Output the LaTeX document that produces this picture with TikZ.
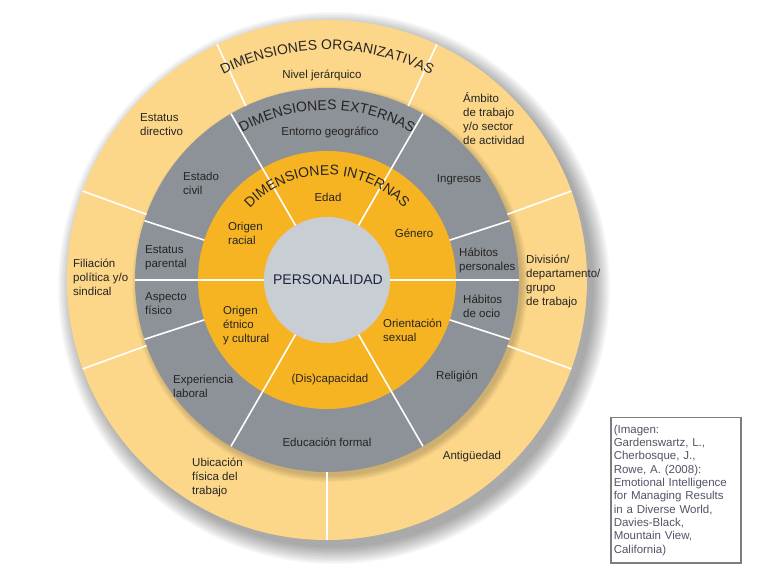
\documentclass[tikz,border=0pt]{standalone}
\usepackage{fontspec}
\setmainfont{Liberation Sans}
\usetikzlibrary{decorations.text}
\definecolor{outerc}{RGB}{252,215,138}
\definecolor{grayc}{RGB}{141,145,152}
\definecolor{orangec}{RGB}{246,180,35}
\definecolor{centerc}{RGB}{201,206,213}
\definecolor{txt}{RGB}{38,36,34}
\definecolor{navy}{RGB}{30,36,62}
\definecolor{citec}{RGB}{82,84,104}
\definecolor{boxc}{RGB}{125,125,125}
\begin{document}
\begin{tikzpicture}[x=1pt,y=1pt,
  sep/.style={white, line width=1.6pt},
  lbl/.style={font=\fontsize{11.5}{14}\selectfont, text=txt, inner sep=0pt, align=left},
  lblc/.style={lbl, align=center},
  arctitle/.style={decorate, decoration={text along path, text align=center, text color=txt,
     text={|\fontsize{14}{14}\selectfont|#1}}}
]
\useasboundingbox[fill=white] (-327,-295) rectangle (455,280);
% soft shadow
\foreach \i in {0,...,11} \fill[black,opacity=0.03] (7,-8) circle ({276-1.5*\i});
% rings
\fill[outerc] (0,0) circle (260);
\foreach \i in {0,...,5} \fill[black,opacity=0.03] (3,-4) circle ({198-1.2*\i});
\fill[grayc] (0,0) circle (192);
\fill[orangec] (0,0) circle (129);
\fill[centerc] (0,0) circle (63);
% separators
\foreach \a in {0,60,...,300} \draw[sep] (\a:63) -- (\a:192);
\foreach \a in {18,162,198,342} \draw[sep] (\a:129) -- (\a:192);
\foreach \a in {20,65,115,160,200,270,340} \draw[sep] (\a:192) -- (\a:260);
% arc titles
\path[arctitle={DIMENSIONES ORGANIZATIVAS}] (150:230) arc (150:30:230);
\path[arctitle={DIMENSIONES EXTERNAS}] (150:170) arc (150:30:170);
\path[arctitle={DIMENSIONES INTERNAS}] (160:105) arc (160:20:105);
% centre
\node[font=\fontsize{14}{14}\selectfont, text=navy, inner sep=0pt] (pers) at (1,0) {PERSONALIDAD};
% internal dimensions
\node[lblc] (edad) at (1,83) {Edad};
\node[lbl, anchor=west] (racial) at (-99,46.5) {Origen\\racial};
\node[lbl, anchor=west] (etnico) at (-104,-45.5) {Origen\\étnico\\y cultural};
\node[lblc] (discap) at (3,-100) {(Dis)capacidad};
\node[lbl, anchor=west] (orient) at (56,-50.5) {Orientación\\sexual};
\node[lblc] (genero) at (87,47) {Género};
% external dimensions
\node[lblc] (entorno) at (3,148) {Entorno geográfico};
\node[lbl, anchor=west] (civil) at (-144,96.5) {Estado\\civil};
\node[lbl, anchor=west] (parental) at (-182,22) {Estatus\\parental};
\node[lbl, anchor=west] (aspecto) at (-182,-24) {Aspecto\\físico};
\node[lbl, anchor=west] (experiencia) at (-154,-106) {Experiencia\\laboral};
\node[lblc] (educacion) at (0,-162) {Educación formal};
\node[lblc] (religion) at (130,-96) {Religión};
\node[lbl, anchor=west] (ocio) at (136,-26) {Hábitos\\de ocio};
\node[lbl, anchor=west] (personales) at (132,19.5) {Hábitos\\personales};
\node[lblc] (ingresos) at (132,100) {Ingresos};
% organisational dimensions
\node[lblc] (nivel) at (-5,205) {Nivel jerárquico};
\node[lbl, anchor=west] (directivo) at (-187,155) {Estatus\\directivo};
\node[lbl, anchor=west] (filiacion) at (-254,2.5) {Filiación\\política y/o\\sindical};
\node[lbl, anchor=west] (ubicacion) at (-135,-197.5) {Ubicación\\física del\\trabajo};
\node[lblc] (antiguedad) at (145,-177) {Antigüedad};
\node[lbl, anchor=west] (division) at (199,-1) {División/\\departamento/\\grupo\\de trabajo};
\node[lbl, anchor=west] (ambito) at (136,161.5) {Ámbito\\de trabajo\\y/o sector\\de actividad};
% citation box
\node[draw=boxc, line width=1.5pt, anchor=north west, text width=124pt, minimum height=145pt,
      inner xsep=3pt, inner ysep=5pt, align=left, text=citec,
      font=\fontsize{11.5}{13.3}\selectfont] (cite) at (283,-137)
  {(Imagen:\\Gardenswartz, L.,\\Cherbosque, J.,\\Rowe, A. (2008):\\Emotional Intelligence\\for Managing Results\\in a Diverse World,\\Davies-Black,\\Mountain View,\\California)};
\end{tikzpicture}
\end{document}
